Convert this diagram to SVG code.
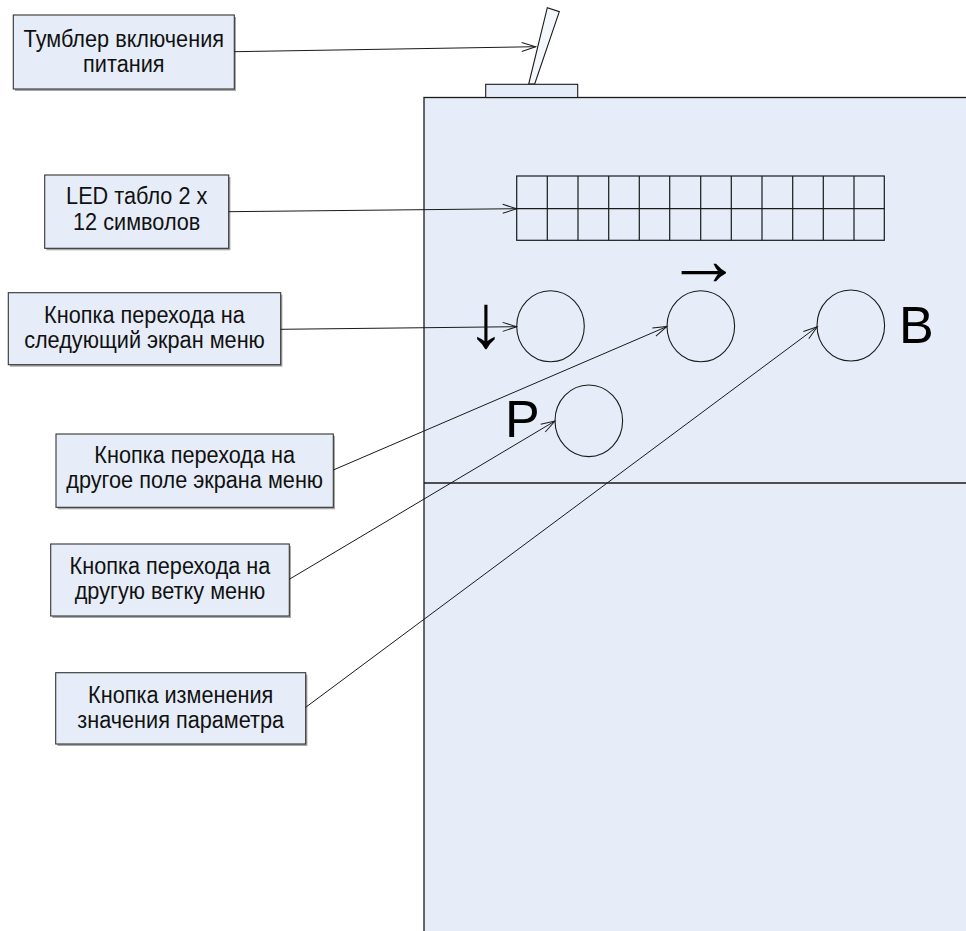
<svg xmlns="http://www.w3.org/2000/svg" width="966" height="931" viewBox="0 0 966 931">
  <defs>
    <marker id="open-arrow" markerUnits="userSpaceOnUse" markerWidth="16" markerHeight="12" refX="14" refY="4.5" orient="auto" overflow="visible">
      <path d="M0,0 L14,4.5 L0,9" fill="none" stroke="#1a1a1a" stroke-width="1"/>
    </marker>
  </defs>
  <style>
    .panel { fill: #e6edf8; stroke: #1a1a1a; stroke-width: 1.3; }
    .part { fill: #e6edf8; stroke: #1a1a1a; stroke-width: 1.1; }
    .grid { fill: none; stroke: #1a1a1a; stroke-width: 1.2; }
    .knob { fill: none; stroke: #1a1a1a; stroke-width: 1.1; }
    .box { fill: #e6edf8; stroke: #333333; stroke-width: 1.1; }
    .shadow { fill: #a8a8a8; }
    .lbl { font-family: "Liberation Sans", Arial, sans-serif; font-size: 21.7px; fill: #111111; text-anchor: middle; }
    .big { font-family: "Liberation Sans", Arial, sans-serif; font-size: 52px; fill: #000000; }
    .sym { font-family: "Liberation Sans", "DejaVu Sans", sans-serif; font-size: 75px; fill: #000000; text-anchor: middle; }
    .conn { fill: none; stroke: #1a1a1a; stroke-width: 1; marker-end: url(#open-arrow); }
  </style>

  <rect width="966" height="931" fill="#ffffff"/>

  <!-- device body -->
  <g id="device">
    <rect class="panel" x="424" y="97.5" width="620" height="900"/>
    <line x1="424" y1="483" x2="966" y2="483" stroke="#1a1a1a" stroke-width="1.3"/>
  </g>

  <!-- power toggle switch -->
  <g id="toggle">
    <polygon class="part" points="528.7,84 534.7,84 559.3,11.7 547.3,7.7" style="fill:#f4f7fc"/>
    <rect class="part" x="485.7" y="84.3" width="92" height="13.2"/>
  </g>

  <!-- LED display 2 x 12 -->
  <g id="display">
    <rect class="grid" x="516.7" y="176" width="367.6" height="64.3"/>
    <path class="grid" d="M516.7,208.7 H884.3
      M547.3,176 V240.3 M578,176 V240.3 M608.7,176 V240.3 M639.3,176 V240.3
      M669.7,176 V240.3 M700.7,176 V240.3 M731.3,176 V240.3 M762,176 V240.3
      M792.7,176 V240.3 M823.3,176 V240.3 M854,176 V240.3"/>
  </g>

  <!-- buttons -->
  <g id="btn-down">
    <ellipse class="knob" cx="550.5" cy="326.2" rx="33.8" ry="35.5"/>
    <text class="sym" x="486" y="347">↓</text>
  </g>
  <g id="btn-right">
    <ellipse class="knob" cx="700.8" cy="326.2" rx="33.8" ry="35.5"/>
    <text class="sym" x="704" y="284.5">→</text>
  </g>
  <g id="btn-b">
    <ellipse class="knob" cx="850.8" cy="325.5" rx="33.8" ry="35.5"/>
    <text class="big" x="899" y="342.7">B</text>
  </g>
  <g id="btn-p">
    <ellipse class="knob" cx="588.8" cy="420.8" rx="33.8" ry="35.8"/>
    <text class="big" x="505" y="436.7">P</text>
  </g>

  <!-- callout boxes -->
  <g id="note-toggle">
    <rect class="shadow" x="15" y="17" width="221" height="74"/>
    <rect class="box" x="13.3" y="15" width="221" height="74"/>
    <text class="lbl" transform="translate(123.8,46.5) scale(1,1.12)">Тумблер включения</text>
    <text class="lbl" transform="translate(123.8,71.5) scale(1,1.12)">питания</text>
  </g>
  <g id="note-display">
    <rect class="shadow" x="46.4" y="177" width="184" height="73.3"/>
    <rect class="box" x="44.7" y="175" width="184" height="73.3"/>
    <text class="lbl" transform="translate(136.7,204) scale(1,1.12)">LED табло 2 x</text>
    <text class="lbl" transform="translate(136.7,230) scale(1,1.12)">12 символов</text>
  </g>
  <g id="note-down">
    <rect class="shadow" x="10" y="294.7" width="272.4" height="72"/>
    <rect class="box" x="8.3" y="292.7" width="272.4" height="72"/>
    <text class="lbl" transform="translate(144.5,322.5) scale(1,1.12)">Кнопка перехода на</text>
    <text class="lbl" transform="translate(144.5,348) scale(1,1.12)">следующий экран меню</text>
  </g>
  <g id="note-right">
    <rect class="shadow" x="57.7" y="436" width="277.3" height="73.3"/>
    <rect class="box" x="56" y="434" width="277.3" height="73.3"/>
    <text class="lbl" transform="translate(194.7,463.3) scale(1,1.12)">Кнопка перехода на</text>
    <text class="lbl" transform="translate(194.7,488.3) scale(1,1.12)">другое поле экрана меню</text>
  </g>
  <g id="note-p">
    <rect class="shadow" x="52.4" y="546" width="238.6" height="72"/>
    <rect class="box" x="50.7" y="544" width="238.6" height="72"/>
    <text class="lbl" transform="translate(170,574) scale(1,1.12)">Кнопка перехода на</text>
    <text class="lbl" transform="translate(170,599.3) scale(1,1.12)">другую ветку меню</text>
  </g>
  <g id="note-b">
    <rect class="shadow" x="57.4" y="674.7" width="250" height="71.3"/>
    <rect class="box" x="55.7" y="672.7" width="250" height="71.3"/>
    <text class="lbl" transform="translate(180.7,703.3) scale(1,1.12)">Кнопка изменения</text>
    <text class="lbl" transform="translate(180.7,728.3) scale(1,1.12)">значения параметра</text>
  </g>

  <!-- leader lines -->
  <g id="connectors">
    <line class="conn" x1="234.3" y1="51.7" x2="535.7" y2="46.7"/>
    <line class="conn" x1="228.7" y1="211.7" x2="516.7" y2="208.7"/>
    <line class="conn" x1="280.7" y1="329.3" x2="516.7" y2="326.7"/>
    <line class="conn" x1="333.3" y1="470" x2="667" y2="326.5"/>
    <line class="conn" x1="289.3" y1="579.3" x2="555" y2="421"/>
    <line class="conn" x1="305.7" y1="707.3" x2="817.3" y2="326.7"/>
  </g>
</svg>
